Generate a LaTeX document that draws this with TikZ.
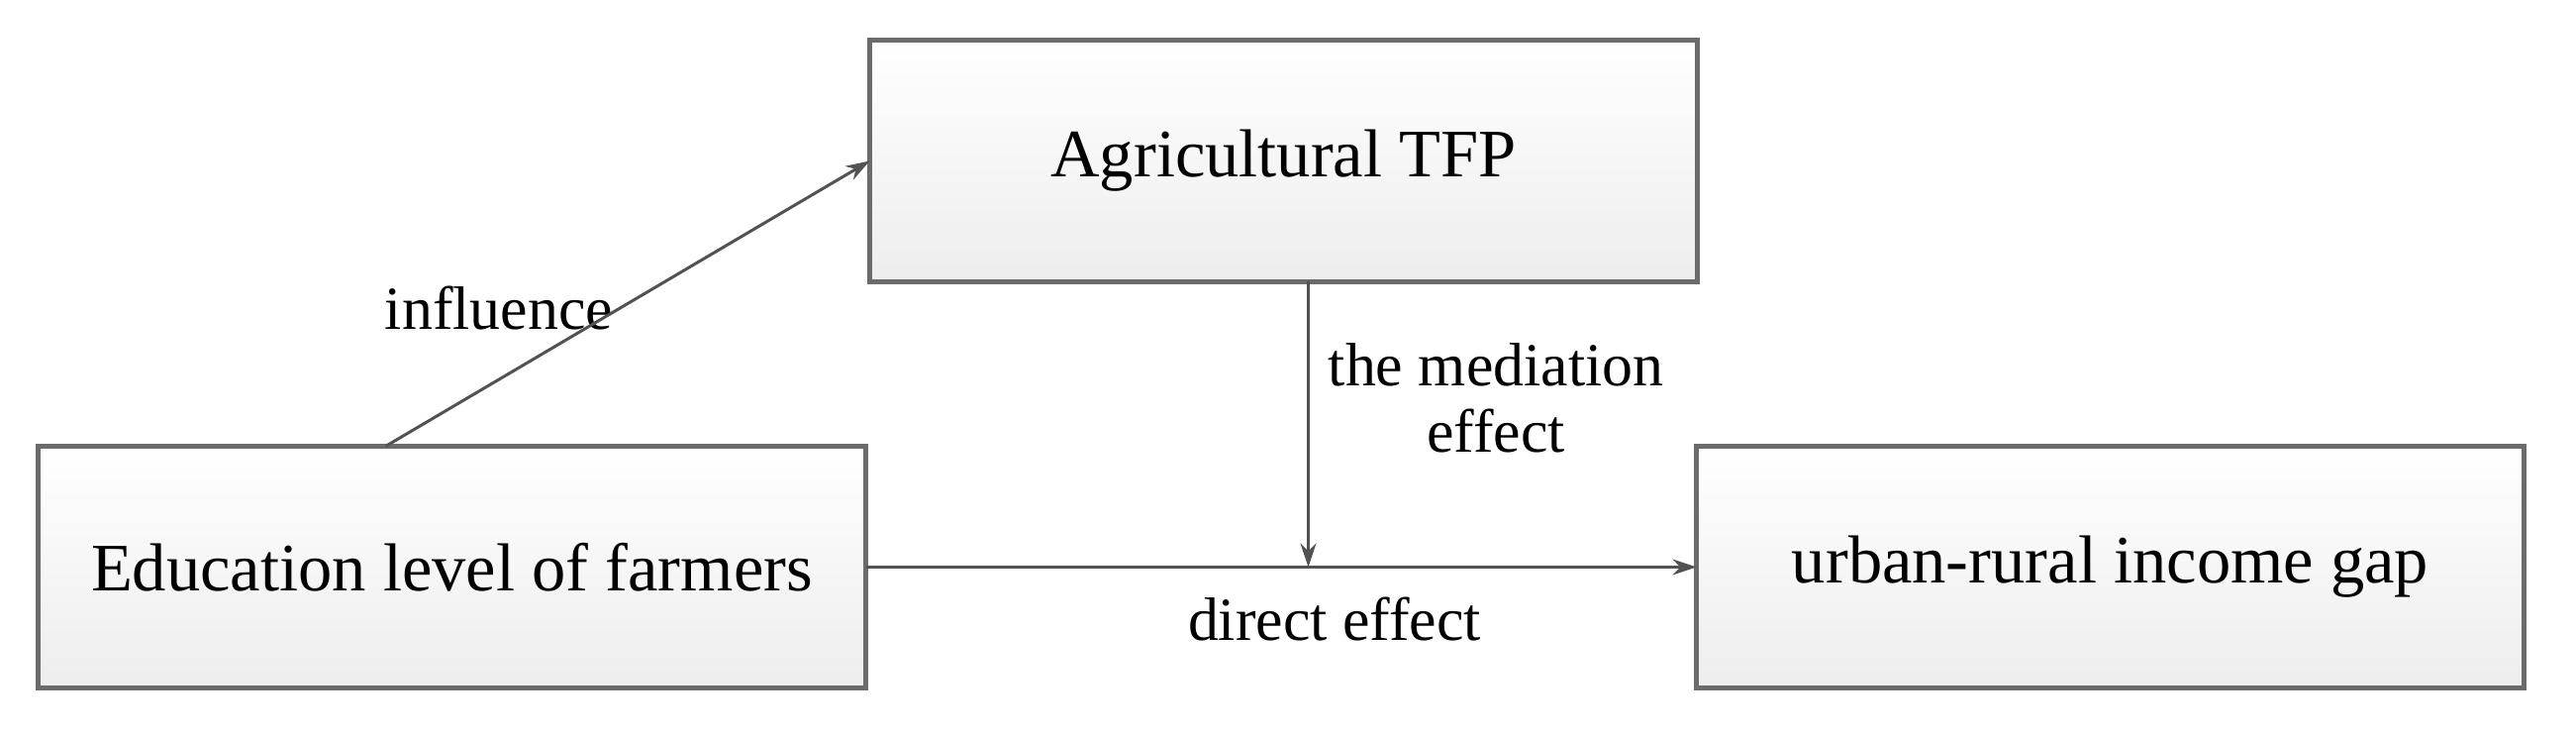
\documentclass[tikz,border=0pt]{standalone}
\usepackage{fontspec}
\setmainfont{Liberation Serif}
\usetikzlibrary{positioning,calc,arrows.meta}
\begin{document}
\begin{tikzpicture}[thick,
	box/.style = {draw=black!58, line width=1.4pt, rectangle, top color=white, bottom color=black!7,
		minimum width=8.36cm, minimum height=2.44cm, inner sep=0pt, outer sep=0pt, font=\fontsize{19.5}{23}\selectfont},
	lbl/.style = {align=center, inner sep=0pt, font=\fontsize{17.6}{19}\selectfont},
	link/.style = {draw=black!68, line width=0.85pt, -{Stealth[length=2.4mm,width=1.6mm]}}]
		\useasboundingbox (0,0) rectangle (26.02,7.42);
		\node[box] (edu) at (4.565,1.695) {Education level of farmers};
		\node[box] (tfp) at (12.965,5.795) {Agricultural TFP};
		\node[box] (gap) [right=8.39cm of edu] {urban-rural income gap};
		\node[lbl] (infl) at (5.04,4.31) {influence};
		\node[lbl] (med) at (15.11,3.40) {the mediation\\effect};
		\node[lbl] (dir) at (13.48,1.17) {direct effect};
		\coordinate (s) at ([xshift=-6.7mm]edu.north);
		\coordinate (m) at ([xshift=2.5mm]tfp.south |- edu.east);
		\draw[link] (s) -- (tfp.west);
		\draw[link] (edu.east) -- (gap.west);
		\draw[link] ([xshift=2.5mm]tfp.south) -- (m);
	\end{tikzpicture}
\end{document}
